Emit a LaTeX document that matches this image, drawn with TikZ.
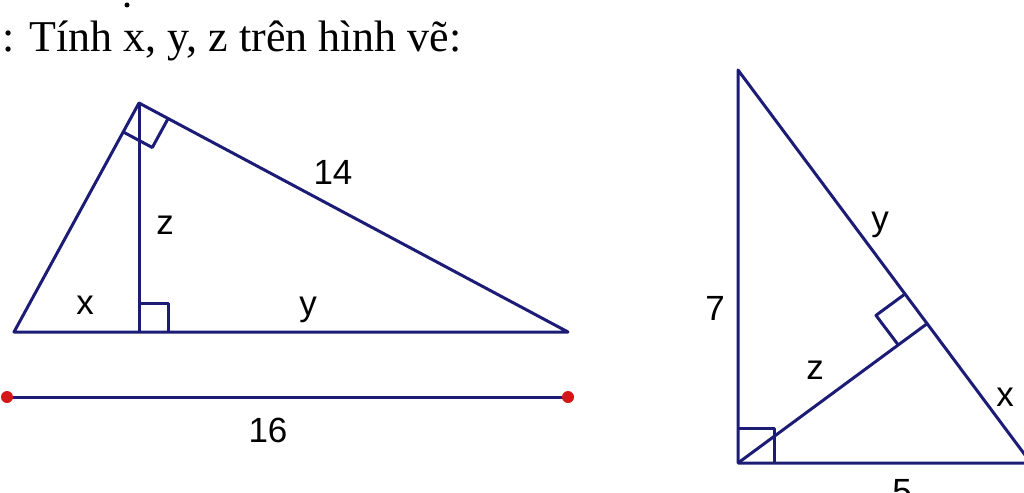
\documentclass[tikz,border=0pt]{standalone}
\usepackage{fontspec}
\setmainfont{Liberation Serif}
\setsansfont{Liberation Sans}
\usetikzlibrary{calc}
\definecolor{navy}{RGB}{28,28,118}
\definecolor{dotred}{RGB}{212,22,22}

\begin{document}
\begin{tikzpicture}[x=1pt, y=-1pt, line width=3pt, line join=round,
    every node/.style={font=\sffamily\fontsize{35}{40}\selectfont, inner sep=0pt}]
    \def\sq{33}
    \useasboundingbox (0,0) rectangle (1024,492);
    \clip (0,0) rectangle (1024,492);
    % title
    \fill (127,5) circle[radius=2.5];
    \node[anchor=base west, font=\rmfamily\fontsize{44}{50}\selectfont] (title) at (1,52)
        {: Tính x, y, z trên hình vẽ:};
    % left triangle
    \coordinate (A) at (14,332);
    \coordinate (B) at (139,103);
    \coordinate (C) at (568,332);
    \coordinate (H) at (139,332);
    \draw[navy] (A) -- (B) -- (C) -- cycle;
    \draw[navy] (B) -- (H);
    \draw[navy] ($(B)!\sq pt!(A)$) -- ++($(B)!\sq pt!(C)-(B)$) -- ($(B)!\sq pt!(C)$);
    \draw[navy] ($(H)!29pt!(B)$) -- ++(29,0) -- ($(H)!29pt!(C)$);
    \node (x1) at (85,305) {x};
    \node (y1) at (308,310) {y};
    \node (z1) at (165,225) {z};
    \node (b1) at (333,172) {14};
    % segment 16
    \coordinate (S) at (7,397);
    \coordinate (T) at (568,397);
    \draw[navy] (S) -- (T);
    \fill[dotred] (S) circle[radius=6];
    \fill[dotred] (T) circle[radius=6];
    \node (c1) at (268,430) {16};
    % right triangle
    \coordinate (P) at (738,70);
    \coordinate (Q) at (738,463);
    \coordinate (R) at (1031,463);
    \coordinate (F) at (928,323);
    \draw[navy] (P) -- (Q) -- (R) -- cycle;
    \draw[navy] (Q) -- (F);
    \draw[navy] ($(F)!37pt!(P)$) -- ++($(F)!37pt!(Q)-(F)$) -- ($(F)!37pt!(Q)$);
    \draw[navy] ($(Q)!35pt!(P)$) -- ++(36,0) -- ($(Q)!36pt!(R)$);
    \node (y2) at (880,225) {y};
    \node (a2) at (715,308) {7};
    \node (z2) at (815,370) {z};
    \node (x2) at (1005,397) {x};
    \node (b2) at (902,492) {5};
\end{tikzpicture}
\end{document}
